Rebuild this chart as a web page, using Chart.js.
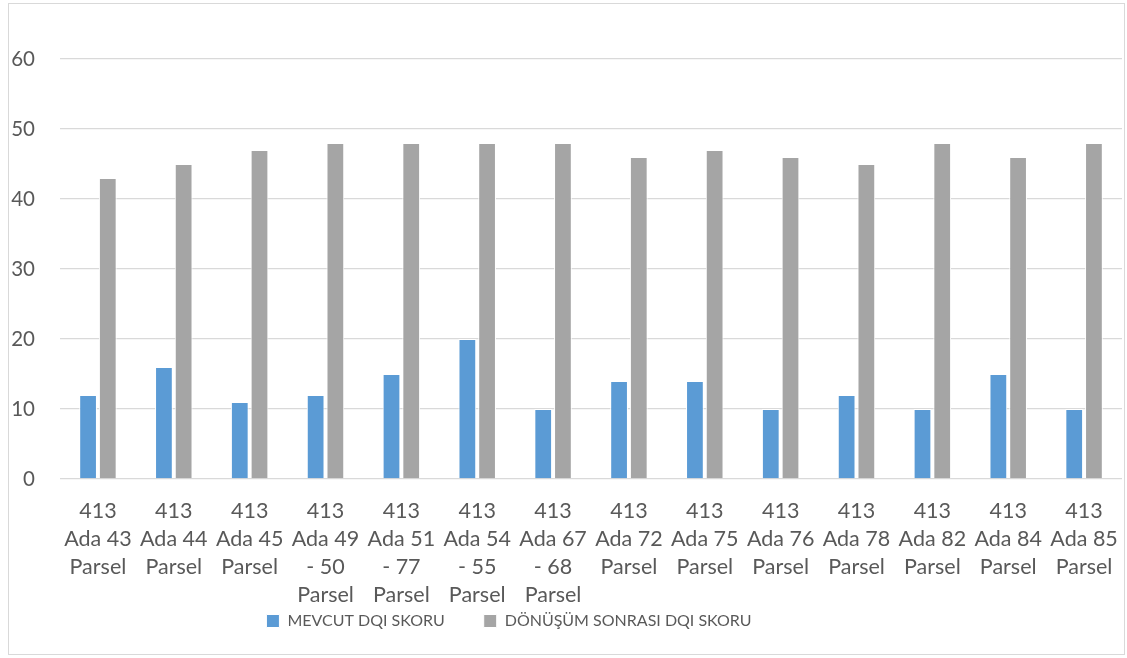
<!DOCTYPE html>
<html>
<head>
<meta charset="utf-8">
<script src="https://cdn.jsdelivr.net/npm/chart.js@4"></script>
<style>
  body { margin: 0; background: #fff; }
  #frame { position: absolute; left: 8px; top: 3px; width: 1117px; height: 652px; border: 1px solid #d9d9d9; box-sizing: border-box; }
  #wrap { position: absolute; left: 0; top: 0; width: 1115px; height: 650px; }
</style>
</head>
<body>
<div id="frame"><div id="wrap"><canvas id="dqi-chart"></canvas></div></div>
<script>
// Chart data
const categories = [
    ['413', 'Ada 43', 'Parsel'],
    ['413', 'Ada 44', 'Parsel'],
    ['413', 'Ada 45', 'Parsel'],
    ['413', 'Ada 49', '- 50', 'Parsel'],
    ['413', 'Ada 51', '- 77', 'Parsel'],
    ['413', 'Ada 54', '- 55', 'Parsel'],
    ['413', 'Ada 67', '- 68', 'Parsel'],
    ['413', 'Ada 72', 'Parsel'],
    ['413', 'Ada 75', 'Parsel'],
    ['413', 'Ada 76', 'Parsel'],
    ['413', 'Ada 78', 'Parsel'],
    ['413', 'Ada 82', 'Parsel'],
    ['413', 'Ada 84', 'Parsel'],
    ['413', 'Ada 85', 'Parsel']
];
const mevcutScores = [12, 16, 11, 12, 15, 20, 10, 14, 14, 10, 12, 10, 15, 10];
const donusumScores = [43, 45, 47, 48, 48, 48, 48, 46, 47, 46, 45, 48, 46, 48];
const seriesNames = ['MEVCUT DQI SKORU', 'DÖNÜŞÜM SONRASI DQI SKORU'];

const textColor = '#595959';
const fontFamily = 'Lato, Calibri, sans-serif';

// put the legend right under the labels and a bit to the left, like the original
const legendShift = {
    id: 'legendShift',
    afterLayout(chart) {
        const lg = chart.legend;
        if (!lg) return;
        lg.top = 570;
        lg.height = 66;
        lg.bottom = lg.top + lg.height;
        lg.right -= 113;
        lg.width = lg.right - lg.left;
    }
};

const ctx = document.getElementById('dqi-chart').getContext('2d');
new Chart(ctx, {
    type: 'bar',
    data: {
        labels: categories,
        datasets: [
            { label: seriesNames[0], data: mevcutScores, backgroundColor: '#5B9BD5', borderColor: '#ffffff', borderWidth: 1 },
            { label: seriesNames[1], data: donusumScores, backgroundColor: '#A5A5A5', borderColor: '#ffffff', borderWidth: 1 }
        ]
    },
    plugins: [legendShift],
    options: {
        responsive: true,
        maintainAspectRatio: false,
        animation: false,
        datasets: { bar: { categoryPercentage: 0.52, barPercentage: 0.9 } },
        layout: { padding: { left: 0, right: 2, top: 55, bottom: 0 } },
        plugins: {
            tooltip: { enabled: false },
            legend: {
                position: 'bottom',
                maxHeight: 39,
                labels: { color: textColor, font: { family: fontFamily, size: 16 }, boxWidth: 13, boxHeight: 13, padding: 39 }
            }
        },
        scales: {
            x: {
                grid: { display: false },
                border: { display: false },
                ticks: { color: textColor, font: { family: fontFamily, size: 21.5, lineHeight: 1.3 }, maxRotation: 0, autoSkip: false, padding: 10 },
                afterFit: (scale) => { scale.paddingLeft = 0; scale.paddingRight = 0; scale.height = 136; }
            },
            y: {
                min: 0,
                max: 60,
                grid: { color: '#d9d9d9', lineWidth: 1.3, drawTicks: false },
                border: { display: false },
                ticks: { stepSize: 10, color: textColor, font: { family: fontFamily, size: 20.5 }, padding: 25 },
                afterFit: (scale) => { scale.width = 51; }
            }
        }
    }
});
</script>
</body>
</html>
